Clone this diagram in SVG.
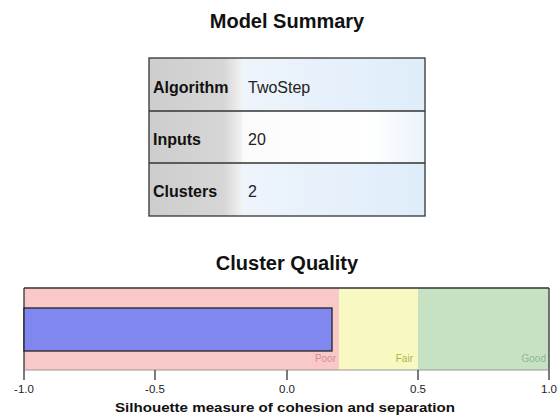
<svg xmlns="http://www.w3.org/2000/svg" width="558" height="420" viewBox="0 0 558 420">
<defs>
<linearGradient id="gLab" x1="0" y1="0" x2="1" y2="0">
<stop offset="0" stop-color="#cdcdcd"/>
<stop offset="0.8" stop-color="#d6d6d6"/>
<stop offset="1" stop-color="#f2f2f2"/>
</linearGradient>
<linearGradient id="gVal" x1="0" y1="0" x2="1" y2="0">
<stop offset="0" stop-color="#eef4fb"/>
<stop offset="1" stop-color="#deedfa"/>
</linearGradient>
<linearGradient id="gVal2" x1="0" y1="0" x2="1" y2="0">
<stop offset="0" stop-color="#fbfbfb"/>
<stop offset="0.7" stop-color="#ffffff"/>
<stop offset="1" stop-color="#eaf3fb"/>
</linearGradient>
</defs>
<style>
.title{font-family:"Liberation Sans",Arial,sans-serif;font-weight:bold;font-size:20px;fill:#111;text-anchor:middle}
.lab{font-family:"Liberation Sans",Arial,sans-serif;font-weight:bold;font-size:16px;fill:#111}
.val{font-family:"Liberation Sans",Arial,sans-serif;font-size:16px;fill:#222}
.tick{font-family:"Liberation Sans",Arial,sans-serif;font-size:11.5px;fill:#222;text-anchor:middle}
.axt{font-family:"Liberation Sans",Arial,sans-serif;font-weight:bold;font-size:12.5px;fill:#111;text-anchor:middle}
.band{font-family:"Liberation Sans",Arial,sans-serif;font-size:10px;text-anchor:end}
.line{stroke:#333;stroke-width:1.3;fill:none}
</style>
<rect width="558" height="420" fill="#ffffff"/>
<text class="title" x="287" y="28">Model Summary</text>
<g id="table">
<rect x="149" y="58" width="93" height="158" fill="url(#gLab)"/>
<rect x="242" y="58" width="183" height="53" fill="url(#gVal)"/>
<rect x="242" y="111" width="183" height="52" fill="url(#gVal2)"/>
<rect x="242" y="163" width="183" height="53" fill="url(#gVal)"/>
<rect class="line" x="149" y="58" width="276" height="158"/>
<line class="line" x1="149" y1="111" x2="425" y2="111"/>
<line class="line" x1="149" y1="163" x2="425" y2="163"/>
<g id="row-algorithm"><text class="lab" x="153" y="93">Algorithm</text><text class="val" x="248" y="93">TwoStep</text></g>
<g id="row-inputs"><text class="lab" x="153" y="145">Inputs</text><text class="val" x="248" y="145">20</text></g>
<g id="row-clusters"><text class="lab" x="153" y="197">Clusters</text><text class="val" x="248" y="197">2</text></g>
</g>
<text class="title" x="287" y="270">Cluster Quality</text>
<g id="chart">
<rect x="24" y="288" width="315" height="82" fill="#f9c8c8"/>
<rect x="339" y="288" width="79" height="82" fill="#f8f8c2"/>
<rect x="418" y="288" width="131" height="82" fill="#c7e2c3"/>
<line class="line" x1="24" y1="288" x2="549" y2="288"/>
<line class="line" x1="24" y1="288" x2="24" y2="370"/>
<line class="line" x1="549" y1="288" x2="549" y2="370"/>
<g id="bar"><rect x="24" y="308" width="308" height="43" fill="#8088f0" stroke="#222" stroke-width="1.3"/></g>
<text class="band" x="336" y="362" fill="#d48f8f">Poor</text>
<text class="band" x="413" y="362" fill="#b2b04a">Fair</text>
<text class="band" x="546" y="362" fill="#8fb88c">Good</text>
</g>
<g id="axis">
<line x1="24" y1="370" x2="549" y2="370" stroke="#999" stroke-width="1"/>
<line class="line" x1="24" y1="370" x2="24" y2="380"/>
<line class="line" x1="155" y1="370" x2="155" y2="380"/>
<line class="line" x1="287" y1="370" x2="287" y2="380"/>
<line class="line" x1="418" y1="370" x2="418" y2="380"/>
<line class="line" x1="549" y1="370" x2="549" y2="380"/>
<text class="tick" x="24" y="393">-1.0</text>
<text class="tick" x="155" y="393">-0.5</text>
<text class="tick" x="287" y="393">0.0</text>
<text class="tick" x="418" y="393">0.5</text>
<text class="tick" x="549" y="393">1.0</text>
<text class="axt" x="285" y="412" textLength="340" lengthAdjust="spacingAndGlyphs">Silhouette measure of cohesion and separation</text>
</g>
</svg>
